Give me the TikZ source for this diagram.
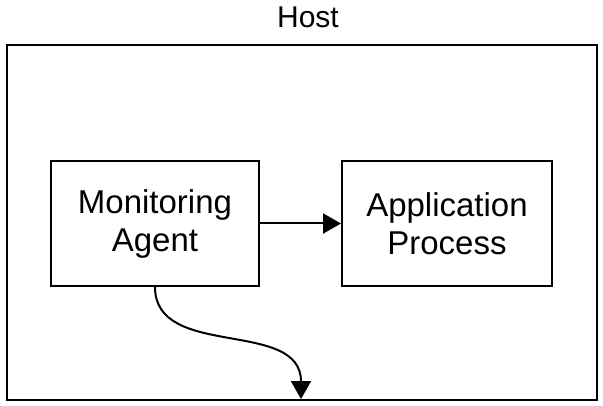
\documentclass[tikz,border=0pt]{standalone}
\usepackage{fontspec}
\setmainfont{Liberation Sans}
\usetikzlibrary{arrows.meta}
\begin{document}
\begin{tikzpicture}[x=1pt,y=-1pt,
  frame/.style={draw=black,line width=2pt,rectangle,inner sep=0pt},
  box/.style={frame,align=center,font=\fontsize{33}{38}\selectfont},
  conn/.style={line width=2pt,-{Triangle[length=18pt,width=20pt]}}]
\useasboundingbox (0,0) rectangle (603,406);
\node[frame,minimum width=590pt,minimum height=355pt] (host) at (302,222.5) {};
\node[font=\fontsize{30}{34}\selectfont,anchor=base] (hostlabel) at (308,28) {Host};
\node[box,minimum width=208pt,minimum height=125pt] (agent) at (155,223.5) {Monitoring\\Agent};
\node[box,minimum width=210pt,minimum height=125pt] (app) at (447,223.5) {Application\\Process};
\coordinate (out) at (301,399);
\draw[conn] (agent.east) -- (app.west);
\draw[conn] (agent.south) .. controls (155,360) and (301,318) .. (out);
\end{tikzpicture}
\end{document}
